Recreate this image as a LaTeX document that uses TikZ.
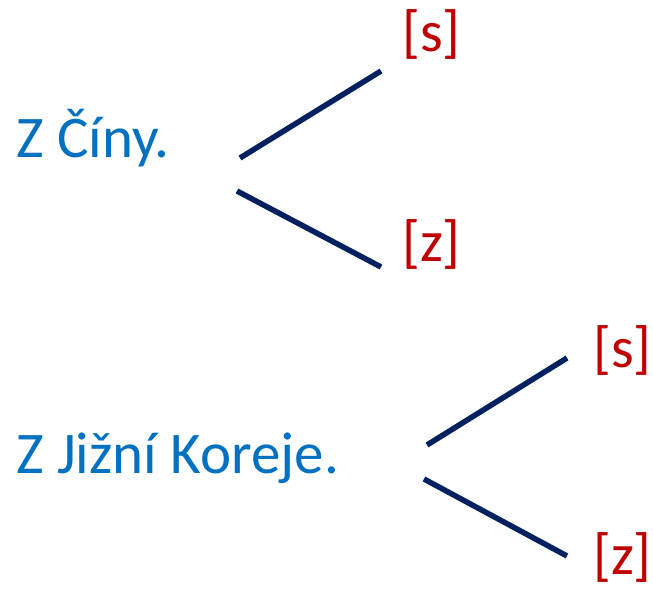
\documentclass[tikz,border=0pt]{standalone}
\usepackage{fontspec}
\setmainfont{Carlito}
\usetikzlibrary{positioning}
\definecolor{sentblue}{HTML}{0070C0}
\definecolor{phonred}{HTML}{C00000}
\definecolor{branchnavy}{HTML}{002060}
\tikzset{
  sentence/.style={anchor=base west,inner sep=0pt,text=sentblue,font=\fontsize{59}{65}\selectfont},
  sound/.style={anchor=base west,inner sep=0pt,text=phonred,font=\fontsize{58}{64}\selectfont},
  branch/.style={draw=branchnavy,line width=5.5pt}
}
\begin{document}
\begin{tikzpicture}[x=1pt,y=-1pt]
    \useasboundingbox (0,0) rectangle (653,589);

    % prvni veta
    \node[sentence] (cina) at (16,157) {Z Číny.};
    \node[sound] (cinaS) at (402,51) {[s]};
    \node[sound] (cinaZ) at (402,261) {[z]};
    \coordinate (cinaUp) at (240,158);
    \coordinate (cinaUpEnd) at (381,71);
    \coordinate (cinaDown) at (237,191);
    \coordinate (cinaDownEnd) at (381,267);
    \draw[branch] (cinaUp) -- (cinaUpEnd);
    \draw[branch] (cinaDown) -- (cinaDownEnd);

    % druha veta
    \node[sentence] (korea) at (16,473) {Z Jižní Koreje.};
    \node[sound] (koreaS) at (593,367) {[s]};
    \node[sound] (koreaZ) at (593,574) {[z]};
    \coordinate (koreaUp) at (427,445);
    \coordinate (koreaUpEnd) at (567,358);
    \coordinate (koreaDown) at (424,479);
    \coordinate (koreaDownEnd) at (567,556);
    \draw[branch] (koreaUp) -- (koreaUpEnd);
    \draw[branch] (koreaDown) -- (koreaDownEnd);
\end{tikzpicture}
\end{document}
